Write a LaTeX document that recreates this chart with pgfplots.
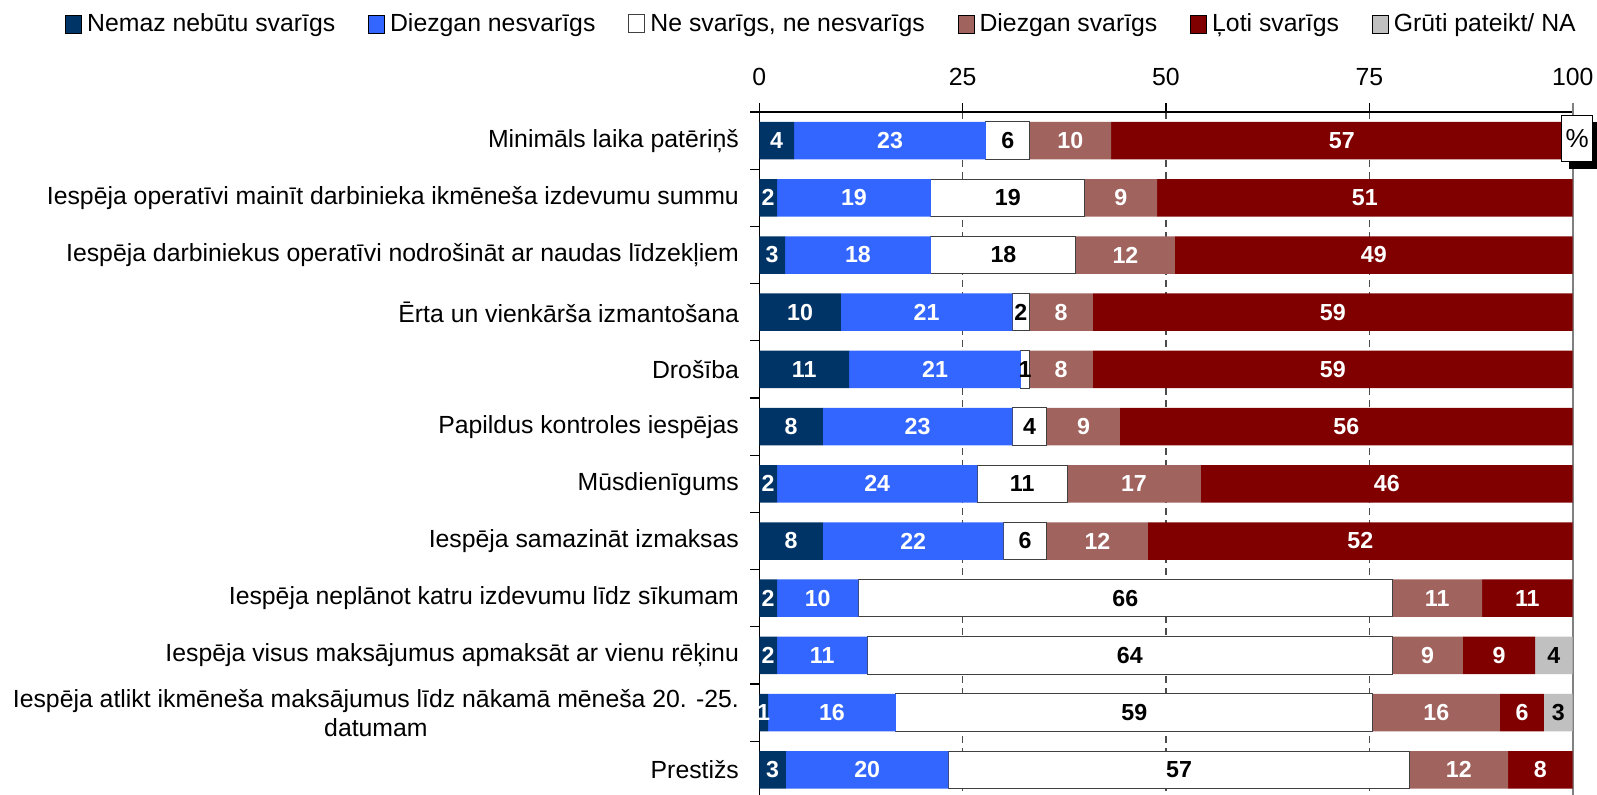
\documentclass[border=0pt]{standalone}
\usepackage{fontspec}
\setmainfont{Liberation Sans}
\usepackage{pgfplots}
\pgfplotsset{compat=1.18}
\usepackage{pgfplotstable}

\definecolor{cDark}{RGB}{0,51,102}
\definecolor{cBlue}{RGB}{51,102,255}
\definecolor{cBrown}{RGB}{160,99,94}
\definecolor{cRed}{RGB}{128,0,0}
\definecolor{cGray}{RGB}{192,192,192}

\pgfplotsset{sq/.style={legend image code/.code={\draw[##1] (0pt,-4.5pt) rectangle (8pt,4.5pt);}}}

% segment widths (percent), rows top to bottom
\pgfplotstableread{
y  a      b      c      d      e      f
0  4.27   23.60  5.37   10.00  56.76  0
1  2.18   18.92  18.90  8.90   51.10  0
2  3.16   17.94  17.83  12.17  48.90  0
3  10.04  21.06  2.10   7.80   59.00  0
4  11.03  21.14  1.03   7.80   59.00  0
5  7.83   23.27  4.27   8.97   55.66  0
6  2.18   24.62  11.03  16.47  45.70  0
7  7.83   22.17  5.37   12.40  52.23  0
8  2.18   10.00  65.65  11.02  11.15  0
9  2.18   11.10  64.55  8.67   8.87   4.63
10 1.07   15.73  58.61  15.65  5.41   3.53
11 3.28   19.96  56.72  12.09  7.95   0
}\bars

% labels in white
\pgfplotstableread{
x       y   l
2.135   0   4
16.07   0   23
38.24   0   10
71.62   0   57
1.09    1   2
11.64   1   19
44.45   1   9
74.45   1   51
1.58    2   3
12.13   2   18
45.015  2   12
75.55   2   49
5.02    3   10
20.57   3   21
37.1    3   8
70.5    3   59
5.515   4   11
21.6    4   21
37.1    4   8
70.5    4   59
3.915   5   8
19.465  5   23
39.855  5   9
72.17   5   56
1.09    6   2
14.49   6   24
46.065  6   17
77.15   6   46
3.915   7   8
18.915  7   22
41.57   7   12
73.885  7   52
1.09    8   2
7.18    8   10
83.34   8   11
94.425  8   11
1.09    9   2
7.73    9   11
82.165  9   9
90.935  9   9
0.535   10  1
8.935   10  16
83.235  10  16
93.765  10  6
1.64    11  3
13.26   11  20
86.005  11  12
96.025  11  8
}\wlab

% labels in black
\pgfplotstableread{
x       y   l
30.555  0   6
30.55   1   19
30.015  2   18
32.15   3   2
32.685  4   1
33.235  5   4
32.315  6   11
32.685  7   6
45.005  8   66
45.555  9   64
97.685  9   4
46.105  10  59
98.235  10  3
51.6    11  57
}\blab

\begin{document}
\begin{tikzpicture}
\begin{axis}[
  scale only axis, width=406.7pt, height=343.2pt,
  at={(379.65pt,-56pt)}, anchor=north west,
  xbar stacked, bar width=18.75pt,
  xmin=0, xmax=100, ymin=-0.5, ymax=11.5, y dir=reverse,
  axis x line*=top, axis y line*=left,
  axis line style={black, line width=0.6pt},
  tick align=outside, major tick length=4.5pt,
  tick style={black, line width=0.6pt},
  xtick={0,25,50,75},
  extra x ticks={100},
  extra x tick style={xmajorgrids=true, major grid style={solid, draw=gray, line width=0.8pt}, tick style={draw=gray, line width=0.8pt}},
  xmajorgrids,
  major grid style={draw=black!70, line width=0.6pt, dash pattern=on 3.5pt off 2.5pt},
  /pgf/number format/assume math mode=true,
  tick label style={font=\fontsize{12.4}{14.5}\selectfont},
  xticklabel style={yshift=5pt},
  ytick={-0.5,0.5,1.5,2.5,3.5,4.5,5.5,6.5,7.5,8.5,9.5,10.5,11.5}, yticklabels={},
  extra y ticks={0,1,...,11},
  extra y tick labels={Minimāls laika patēriņš,
    Iespēja operatīvi mainīt darbinieka ikmēneša izdevumu summu,
    Iespēja darbiniekus operatīvi nodrošināt ar naudas līdzekļiem,
    Ērta un vienkārša izmantošana,
    Drošība,
    Papildus kontroles iespējas,
    Mūsdienīgums,
    Iespēja samazināt izmaksas,
    Iespēja neplānot katru izdevumu līdz sīkumam,
    Iespēja visus maksājumus apmaksāt ar vienu rēķinu,
    {Iespēja atlikt ikmēneša maksājumus līdz nākamā mēneša 20. -25.\\datumam},
    Prestižs},
  extra y tick style={major tick length=0pt},
  yticklabel style={align=center, anchor=east, inner sep=0pt, xshift=-10pt},
  legend columns=6,
  legend cell align=left,
  legend style={at={(-0.8536,1.1282)}, anchor=west, draw=none, fill=none,
    inner sep=0pt, nodes={inner sep=0pt},
    font=\fontsize{12.4}{14.5}\selectfont,
    /tikz/every odd column/.append style={column sep=2.5pt},
    /tikz/every even column/.append style={column sep=16.5pt}},
]
\addplot[fill=cDark, draw=none, sq] table[x=a, y=y] {\bars};
\addlegendentry{Nemaz nebūtu svarīgs}
\addplot[fill=cBlue, draw=none, sq] table[x=b, y=y] {\bars};
\addlegendentry{Diezgan nesvarīgs}
\addplot[fill=white, draw=black!75, line width=0.5pt, sq] table[x=c, y=y] {\bars};
\addlegendentry{Ne svarīgs, ne nesvarīgs}
\addplot[fill=cBrown, draw=none, sq] table[x=d, y=y] {\bars};
\addlegendentry{Diezgan svarīgs}
\addplot[fill=cRed, draw=none, sq] table[x=e, y=y] {\bars};
\addlegendentry{Ļoti svarīgs}
\addplot[fill=cGray, draw=none, sq] table[x=f, y=y] {\bars};
\addlegendentry{Grūti pateikt/ NA}
\end{axis}

\begin{axis}[
  scale only axis, width=406.7pt, height=343.2pt,
  at={(379.65pt,-56pt)}, anchor=north west,
  xmin=0, xmax=100, ymin=-0.5, ymax=11.5, y dir=reverse,
  hide axis, clip=false,
]
\addplot[only marks, mark=*, mark size=0pt, mark options={draw=none, fill=none},
  nodes near coords={\pgfplotspointmeta}, point meta=explicit symbolic,
  every node near coord/.append style={anchor=center, text=white, inner sep=0pt,
    font=\bfseries\fontsize{11.6}{13}\selectfont}]
  table[x=x, y=y, meta=l] {\wlab};
\addplot[only marks, mark=*, mark size=0pt, mark options={draw=none, fill=none},
  nodes near coords={\pgfplotspointmeta}, point meta=explicit symbolic,
  every node near coord/.append style={anchor=center, text=black, inner sep=0pt,
    font=\bfseries\fontsize{11.6}{13}\selectfont}]
  table[x=x, y=y, meta=l] {\blab};
\end{axis}

\fill[black] (784.5pt,-61pt) rectangle (800pt,-84.65pt);
\node[draw=black, fill=white, line width=0.5pt, minimum width=15.5pt, minimum height=22.85pt,
  inner sep=0pt, font=\fontsize{13}{15}\selectfont] at (788.6pt,-69.4pt) {\%};

\pgfresetboundingbox
\path[use as bounding box] (0pt,0pt) rectangle (798.5pt,-397.5pt);
\end{tikzpicture}
\end{document}
